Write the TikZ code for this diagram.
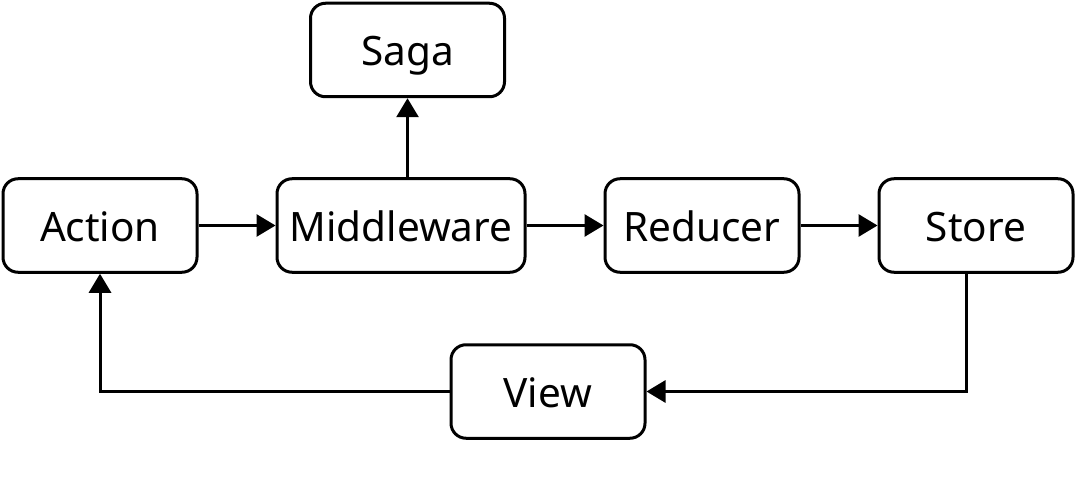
\documentclass[tikz,border=0pt]{standalone}
\usepackage{fontspec}
\setmainfont{Noto Sans}
\usetikzlibrary{arrows.meta}
\begin{document}
\begin{tikzpicture}[x=1pt,y=-1pt,
  box/.style={draw=black, line width=3pt, rounded corners=15pt, fill=white,
    minimum height=93.5pt, inner sep=0pt, text height=32pt, text depth=0pt,
    font=\fontsize{40.5}{48}\selectfont},
  conn/.style={draw=black, line width=3pt, -{Triangle[length=19pt,width=22pt]}}]
\useasboundingbox (0,0) rectangle (1076,497);
\node[box, minimum width=194pt] (saga) at (407.5,50) {Saga};
\node[box, minimum width=194pt] (action) at (100,225.5) {Action};
\node[box, minimum width=248pt] (mid) at (401,225.5) {Middleware};
\node[box, minimum width=194pt] (red) at (702,225.5) {Reducer};
\node[box, minimum width=194pt] (store) at (976,225.5) {Store};
\node[box, minimum width=194pt] (view) at (548,391.5) {View};
\coordinate (sd) at ([xshift=-10pt]store.south);
\draw[conn] (action.east) -- (mid.west);
\draw[conn] (mid.east) -- (red.west);
\draw[conn] (red.east) -- (store.west);
\draw[conn] (saga.south |- mid.north) -- (saga.south);
\draw[conn] (sd) |- (view.east);
\draw[conn] (view.west) -| (action.south);
\end{tikzpicture}
\end{document}
